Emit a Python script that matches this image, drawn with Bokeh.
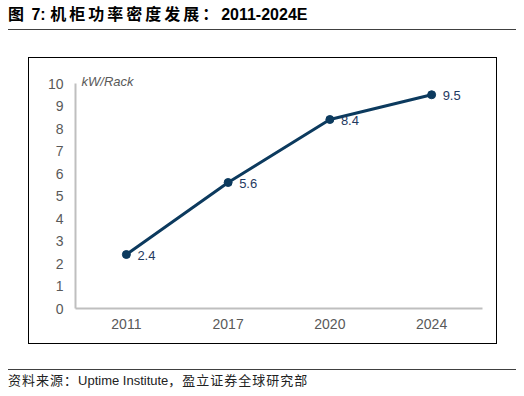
from bokeh.plotting import figure
from bokeh.models import (FactorRange, Range1d, FixedTicker, ColumnDataSource,
                          LabelSet, Label, LinearAxis, CategoricalAxis, Div)
from bokeh.layouts import column
from bokeh.core.properties import value
from bokeh.embed import file_html
from bokeh.resources import INLINE

# ---- data ----
years = ["2011", "2017", "2020", "2024"]
density = [2.4, 5.6, 8.4, 9.5]
density_labels = ["2.4", "5.6", "8.4", "9.5"]
y_ticks = [0, 1, 2, 3, 4, 5, 6, 7, 8, 9, 10]
y_max = 10
unit_text = "kW/Rack"

FONT = "'Liberation Sans', 'Noto Sans CJK SC', sans-serif"
FONT_HTML = FONT.replace("'", "&#39;")

# ---- title ----
cjk = "font-size:16px;letter-spacing:3px;"
title_html = (
    f'<div style="font-family:{FONT_HTML};font-size:16px;font-weight:bold;'
    'color:#000;line-height:14px;height:22px;width:508px;margin:0;padding:0;'
    'border-bottom:1px solid #404040;white-space:nowrap;">'
    f'<span style="{cjk}">图</span> 7: '
    f'<span style="{cjk}">机柜功率密度发展：</span>2011-2024E</div>'
)
title_div = Div(text=title_html, width=508, height=23, margin=(8, 0, 0, 8))

# ---- chart ----
FRAME_L, FRAME_T, FRAME_W, FRAME_H = 46, 12, 407, 238
FIG_W, FIG_H = 467, 285
PX_PER_UNIT = 22.5

p = figure(x_range=FactorRange(*years, range_padding=0, factor_padding=0),
           y_range=Range1d(0, FRAME_H / PX_PER_UNIT),
           frame_width=FRAME_W, frame_height=FRAME_H,
           min_border_left=FRAME_L, min_border_top=FRAME_T,
           min_border_right=FIG_W - FRAME_L - FRAME_W,
           min_border_bottom=FIG_H - FRAME_T - FRAME_H,
           output_backend="svg", toolbar_location=None,
           x_axis_location=None, y_axis_location=None,
           margin=(27, 0, 0, 29),
           styles={"outline": "1px solid #000000"})
p.outline_line_color = None
p.background_fill_color = "white"
p.border_fill_color = "white"
p.xgrid.visible = False
p.ygrid.visible = False

yax = LinearAxis(ticker=FixedTicker(ticks=y_ticks), bounds=(0, y_max))
yax.axis_line_color = "#bfbfbf"
yax.axis_line_width = 2
yax.major_tick_line_color = None
yax.minor_tick_line_color = None
yax.major_tick_out = 0
yax.major_tick_in = 0
yax.major_label_standoff = 12
yax.major_label_text_font = FONT
yax.major_label_text_font_size = "14px"
yax.major_label_text_color = "#595959"
p.add_layout(yax, "left")

xax = CategoricalAxis()
xax.axis_line_color = "#bfbfbf"
xax.axis_line_width = 2
xax.major_tick_line_color = None
xax.minor_tick_line_color = None
xax.major_tick_out = 0
xax.major_tick_in = 0
xax.major_label_standoff = 10
xax.major_label_text_font = FONT
xax.major_label_text_font_size = "14px"
xax.major_label_text_color = "#595959"
p.add_layout(xax, "below")

src = ColumnDataSource(dict(x=years, y=density, lbl=density_labels))
p.line("x", "y", source=src, line_color="#0C3A5E", line_width=3)
p.scatter("x", "y", source=src, size=8, fill_color="#0C3A5E", line_color="#0C3A5E")
p.add_layout(LabelSet(x="x", y="y", text="lbl", source=src, x_offset=11, y_offset=-1,
                      text_baseline="middle", text_align="left",
                      text_font=value(FONT), text_font_size="13px",
                      text_color="#1F3A5F"))

p.add_layout(Label(x=0, y=y_max, x_offset=6, y_offset=2, text=unit_text,
                   text_font=FONT, text_font_size="13px", text_font_style="italic",
                   text_color="#595959", text_baseline="middle"))

# ---- source ----
source_html = (
    f'<div style="font-family:{FONT_HTML};font-size:13px;color:#222;'
    'line-height:14px;width:508px;margin:0;padding:4px 0 0 0;'
    'border-top:1px solid #404040;white-space:nowrap;">'
    '<span style="letter-spacing:1px;">资料来源：</span>Uptime Institute'
    '<span style="letter-spacing:1px;">，盈立证券全球研究部</span></div>'
)
source_div = Div(text=source_html, width=508, height=19, margin=(26, 0, 0, 8))

layout = column(title_div, p, source_div, spacing=0)

open("out.html", "w").write(file_html(layout, INLINE))
